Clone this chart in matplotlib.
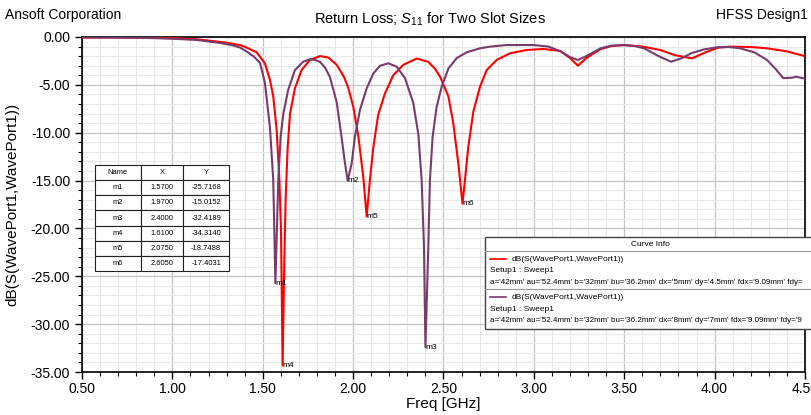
import matplotlib.pyplot as plt
from matplotlib.patches import Rectangle
from matplotlib.lines import Line2D
from matplotlib.ticker import MultipleLocator, FormatStrFormatter

plt.rcParams['font.family'] = ['Liberation Sans', 'DejaVu Sans']
plt.rcParams['mathtext.fontset'] = 'custom'
plt.rcParams['mathtext.rm'] = 'Liberation Sans'
plt.rcParams['mathtext.it'] = 'Liberation Sans:italic'

# S11 sweep, slot dx=5mm (red)
freq_5mm = [0.50, 0.70, 0.90, 1.00, 1.135, 1.30, 1.374, 1.41, 1.466, 1.512, 1.540,
            1.558, 1.577, 1.592, 1.601, 1.610, 1.619, 1.627, 1.638, 1.651, 1.678,
            1.715, 1.761, 1.817, 1.863, 1.909, 1.95, 1.973, 2.001, 2.029, 2.056,
            2.075, 2.093, 2.112, 2.139, 2.176, 2.222, 2.278, 2.352, 2.416, 2.452,
            2.481, 2.527, 2.554, 2.582, 2.605, 2.619, 2.637, 2.665, 2.702, 2.739,
            2.794, 2.868, 2.96, 3.052, 3.145, 3.20, 3.244, 3.29, 3.37, 3.43, 3.498,
            3.60, 3.70, 3.78, 3.875, 3.95, 4.02, 4.086, 4.20, 4.29, 4.40, 4.50]
s11_5mm = [-0.05, -0.05, -0.08, -0.12, -0.24, -0.59, -0.84, -1.1, -1.6, -2.75, -4.5,
           -6.2, -9.7, -14.9, -20.2, -34.314, -23.6, -16.7, -11.5, -8.0, -5.36,
           -3.45, -2.4, -1.99, -2.15, -2.9, -4.2, -5.3, -7.3, -10.4, -14.6,
           -18.7488, -14.9, -11.5, -8.1, -5.9, -4.0, -2.9, -2.25, -2.6, -3.3,
           -4.15, -6.2, -9.0, -13.2, -17.4031, -14.9, -11.5, -7.8, -5.19, -3.45,
           -2.4, -1.7, -1.36, -1.25, -1.45, -2.2, -3.0, -2.2, -1.25, -0.95, -0.84,
           -1.0, -1.36, -1.9, -2.23, -1.6, -1.1, -1.01, -1.05, -1.18, -1.5, -2.0]

# S11 sweep, slot dx=8mm (purple)
freq_8mm = [0.50, 0.70, 0.90, 1.00, 1.135, 1.263, 1.33, 1.374, 1.41, 1.448, 1.485,
            1.512, 1.540, 1.558, 1.570, 1.586, 1.599, 1.614, 1.641, 1.678, 1.724,
            1.760, 1.790, 1.817, 1.845, 1.872, 1.909, 1.937, 1.955, 1.970, 1.992,
            2.010, 2.038, 2.075, 2.112, 2.149, 2.195, 2.241, 2.287, 2.333, 2.361,
            2.379, 2.392, 2.400, 2.416, 2.425, 2.440, 2.462, 2.490, 2.527, 2.573,
            2.628, 2.702, 2.757, 2.85, 3.00, 3.08, 3.148, 3.20, 3.244, 3.29, 3.369,
            3.43, 3.498, 3.56, 3.61, 3.69, 3.759, 3.82, 3.87, 3.94, 4.013, 4.08,
            4.14, 4.22, 4.29, 4.34, 4.38, 4.43, 4.45, 4.50]
s11_8mm = [-0.05, -0.06, -0.12, -0.18, -0.31, -0.62, -0.85, -1.1, -1.5, -2.0, -2.7,
           -4.8, -9.5, -14.9, -25.7168, -14.9, -10.4, -8.0, -5.5, -3.45, -2.58,
           -2.33, -2.4, -2.6, -3.2, -4.2, -6.8, -10.6, -13.2, -15.0152, -13.2,
           -10.4, -7.6, -5.36, -3.8, -3.0, -2.75, -3.1, -4.3, -6.9, -10.2,
           -14.9, -21.9, -32.4189, -21.9, -14.9, -10.4, -7.3, -5.19, -3.3, -2.2,
           -1.6, -1.18, -1.01, -0.84, -0.84, -1.0, -1.5, -2.1, -2.4, -2.0, -1.18,
           -0.9, -0.84, -0.95, -1.18, -2.0, -2.58, -2.2, -1.7, -1.3, -1.08, -1.05,
           -1.18, -1.6, -2.4, -3.4, -4.3, -4.25, -4.15, -4.35]

# markers placed on the dips
marker_names = ['m1', 'm2', 'm3', 'm4', 'm5', 'm6']
marker_x = [1.57, 1.97, 2.40, 1.61, 2.075, 2.605]
marker_y = [-25.7168, -15.0152, -32.4189, -34.3140, -18.7488, -17.4031]

W, H = 812, 415


def fpos(x, y):
    return x / W, 1 - y / H


fig = plt.figure(figsize=(W / 100, H / 100), dpi=100)
ax = fig.add_axes([82 / W, 43 / H, 723 / W, 335 / H])

ax.plot(freq_5mm, s11_5mm, color='#ff0000', lw=1.5, zorder=3)
ax.plot(freq_8mm, s11_8mm, color='#7a3b6a', lw=1.5, zorder=3)

ax.set_xlim(0.5, 4.5)
ax.set_ylim(-35, 0)
ax.xaxis.set_major_locator(MultipleLocator(0.5))
ax.xaxis.set_minor_locator(MultipleLocator(0.1))
ax.yaxis.set_major_locator(MultipleLocator(5))
ax.yaxis.set_minor_locator(MultipleLocator(1))
ax.xaxis.set_major_formatter(FormatStrFormatter('%.2f'))
ax.yaxis.set_major_formatter(FormatStrFormatter('%.2f'))
ax.tick_params(which='major', length=5, width=1, labelsize=10, direction='out')
ax.tick_params(axis='x', which='major', pad=2)
ax.tick_params(which='minor', length=3, width=0.8, direction='out')
ax.grid(which='major', color='#c4c4c4', lw=0.9)
ax.grid(which='minor', color='#e8e8e8', lw=0.8)
ax.set_axisbelow(True)
for sp in ax.spines.values():
    sp.set_linewidth(1.2)

ax.set_xlabel('Freq [GHz]', fontsize=11, labelpad=1)
ax.set_ylabel('dB(S(WavePort1,WavePort1))', fontsize=11, labelpad=8)

for name, mx, my in zip(marker_names, marker_x, marker_y):
    ax.text(mx, my, name, fontsize=6, ha='left', va='center', zorder=4)

# marker table
rows = [[n, '%.4f' % x, '%.4f' % y] for n, x, y in zip(marker_names, marker_x, marker_y)]
tbl = ax.table(cellText=rows, colLabels=['Name', 'X', 'Y'], cellLoc='center',
               colWidths=[0.34, 0.32, 0.34],
               bbox=[(95 - 82) / 723, (372 - 271) / 335, 134 / 723, 106 / 335], zorder=5)
tbl.auto_set_font_size(False)
tbl.set_fontsize(5.4)
for cell in tbl.get_celld().values():
    cell.set_linewidth(0.8)
    cell.set_edgecolor('#222222')

# header texts
fig.text(*fpos(5, 15), 'Ansoft Corporation', fontsize=10, ha='left', va='center')
fig.text(*fpos(808, 15), 'HFSS Design1', fontsize=10, ha='right', va='center')
fig.text(*fpos(430, 19), r'Return Loss; $S_{11}$ for Two Slot Sizes', fontsize=10.5,
         ha='center', va='center')

# curve info box
bx0, by0, bx1, by1 = 485, 237, 830, 329
fig.add_artist(Rectangle(fpos(bx0, by1), (bx1 - bx0) / W, (by1 - by0) / H,
                         transform=fig.transFigure, fc='white', ec='#444444', lw=1, zorder=6))
fig.text(*fpos(650, 244), 'Curve Info', fontsize=6, ha='center', va='center', zorder=7)
for yy in (251, 289):
    fig.add_artist(Line2D([bx0 / W, 1], [1 - yy / H] * 2, transform=fig.transFigure,
                          color='#999999', lw=0.8, zorder=7))

entries = [
    ('#ff0000', "a='42mm' au='52.4mm' b='32mm' bu='36.2mm' dx='5mm' dy='4.5mm' fdx='9.09mm' fdy="),
    ('#7a3b6a', "a='42mm' au='52.4mm' b='32mm' bu='36.2mm' dx='8mm' dy='7mm' fdx='9.09mm' fdy='9"),
]
for i, (col, params) in enumerate(entries):
    y0 = 259 + i * 38
    fig.add_artist(Line2D([490 / W, 506 / W], [1 - y0 / H] * 2, transform=fig.transFigure,
                          color=col, lw=1.2, zorder=7))
    fig.text(*fpos(512, y0), 'dB(S(WavePort1,WavePort1))', fontsize=6, ha='left',
             va='center', zorder=7)
    fig.text(*fpos(490, y0 + 12), 'Setup1 : Sweep1', fontsize=6, ha='left', va='center', zorder=7)
    fig.text(*fpos(490, y0 + 23), params, fontsize=5.8, ha='left', va='center', zorder=7)

fig.savefig('out.png', dpi=100)
